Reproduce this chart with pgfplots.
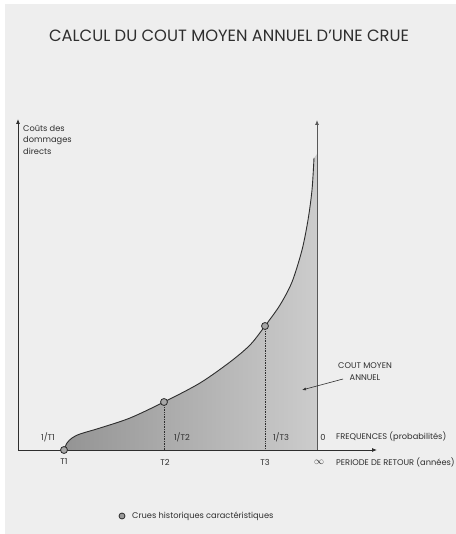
\documentclass[border=0pt]{standalone}
\usepackage{pgfplots}
\pgfplotsset{compat=1.18}
\usepackage{fontspec}
\setmainfont{Poppins}
\usepackage{graphicx}
\usetikzlibrary{arrows.meta}
\definecolor{pagebg}{HTML}{EEEEEE}
\definecolor{ink}{HTML}{2E2E2E}
\newcommand{\sm}{\fontsize{8.3}{9}\selectfont}
\begin{document}
\begin{tikzpicture}
\useasboundingbox (0,0) rectangle (456bp,534bp);
\clip (0,0) rectangle (456bp,534bp);
\begin{axis}[
  at={(0,0)}, anchor=south west,
  scale only axis, width=456bp, height=534bp,
  xmin=0, xmax=456, ymin=0, ymax=534,
  axis lines=none, ticks=none, clip=false,
]
% page background
\fill[white] (axis cs:0,0) rectangle (axis cs:456,534);
\fill[pagebg] (axis cs:5,0) rectangle (axis cs:456,530);

% shaded area under the curve
\addplot[draw=none, left color=black!42, right color=black!20, smooth, tension=0.5]
  coordinates {(64,84) (67,91) (72,96) (80,100) (100,106) (130,116) (164,132) (200,151) (230,172) (250,189) (265,208) (280,229) (292,252) (302,284) (308,314) (312,344) (314,376)}
  -- (axis cs:317,380) -- (axis cs:317,84) -- cycle;

% dotted verticals
\addplot[ink, densely dotted, line width=0.7pt] coordinates {(164,132) (164,84)};
\addplot[ink, densely dotted, line width=0.7pt] coordinates {(265,208) (265,84)};

% axes
\draw[ink, line width=0.8pt, -{Latex[length=5bp,width=4bp]}] (axis cs:18,84) -- (axis cs:18,415);
\draw[ink, line width=0.8pt, -{Latex[length=5bp,width=4bp]}] (axis cs:18,84) -- (axis cs:377,84);
\draw[ink!80, line width=0.9pt, -{Latex[length=5bp,width=4bp]}] (axis cs:317,84) -- (axis cs:317,414);

% curve
\addplot[ink, line width=0.9pt, smooth, tension=0.5]
  coordinates {(64,84) (67,91) (72,96) (80,100) (100,106) (130,116) (164,132) (200,151) (230,172) (250,189) (265,208) (280,229) (292,252) (302,284) (308,314) (312,344) (314,376)};

% historical floods
\addplot[only marks, mark=*, mark size=3.5pt, mark options={fill=black!35, draw=ink, line width=0.8pt}]
  coordinates {(64,84) (164,132) (265,208)};

% legend marker
\addplot[only marks, mark=*, mark size=3pt, mark options={fill=black!40, draw=ink, line width=0.8pt}]
  coordinates {(122,18)};
\node[anchor=west, text=ink, font=\sm, inner sep=0pt] at (axis cs:132,18) {Crues historiques caractéristiques};

% title
\node[text=ink, inner sep=0pt] at (axis cs:229,498) {\resizebox{360bp}{!}{\fontsize{14}{16}\selectfont CALCUL DU COUT MOYEN ANNUEL D'UNE CRUE}};

% y label
\node[anchor=north west, text=ink, font=\fontsize{8.3}{11.5}\selectfont, align=left, inner sep=0pt] at (axis cs:23,409) {Coûts des\\dommages\\directs};

% frequency labels
\node[text=ink, font=\sm, inner sep=0pt] at (axis cs:48,97) {1/T1};
\node[text=ink, font=\sm, inner sep=0pt] at (axis cs:182,97) {1/T2};
\node[text=ink, font=\sm, inner sep=0pt] at (axis cs:281,97) {1/T3};
\node[text=ink, font=\sm, inner sep=0pt] at (axis cs:323,97) {0};
\node[anchor=west, text=ink, font=\sm, inner sep=0pt] at (axis cs:336,97) {FREQUENCES (probabilités)};

% return period labels
\node[text=ink, font=\sm, inner sep=0pt] at (axis cs:64,72) {T1};
\node[text=ink, font=\sm, inner sep=0pt] at (axis cs:165,72) {T2};
\node[text=ink, font=\sm, inner sep=0pt] at (axis cs:265,72) {T3};
\node[text=ink, inner sep=0pt] at (axis cs:319,72) {$\infty$};
\node[anchor=west, text=ink, font=\sm, inner sep=0pt] at (axis cs:336,72) {PERIODE DE RETOUR (années)};

% annotation
\node[text=ink, font=\fontsize{8.3}{12}\selectfont, align=center, inner sep=0pt] at (axis cs:365,162) {COUT MOYEN\\ANNUEL};
\draw[ink, line width=0.6pt, -{Latex[length=4bp,width=3bp]}] (axis cs:343,155) -- (axis cs:302,144);
\end{axis}
\end{tikzpicture}
\end{document}
